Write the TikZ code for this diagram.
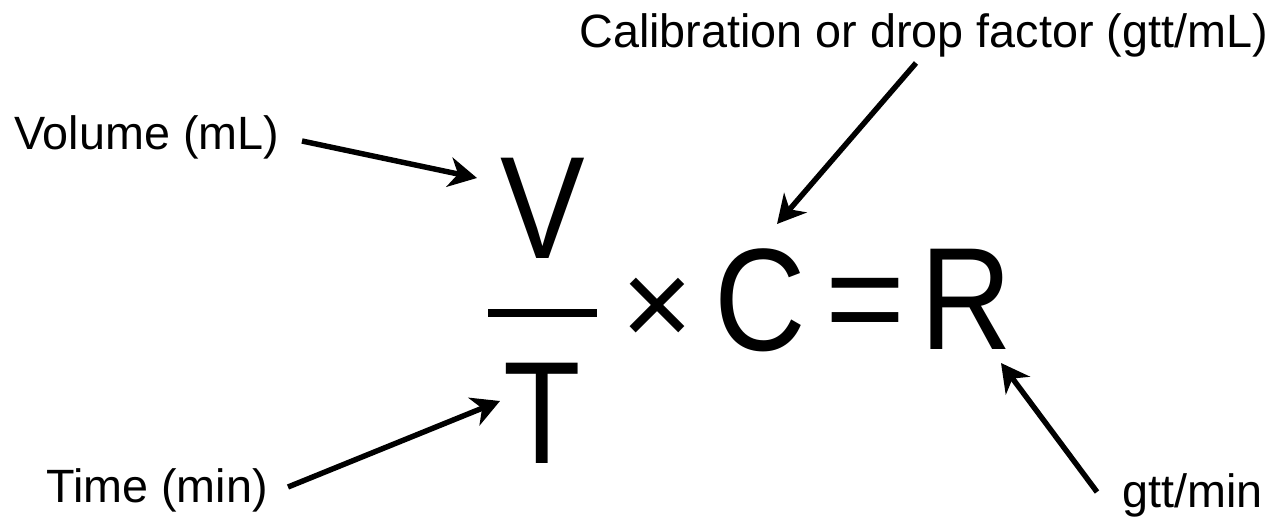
\documentclass[tikz,border=0pt]{standalone}
\usepackage{fontspec}
\setmainfont{Liberation Sans}
\usetikzlibrary{arrows.meta}

\tikzset{
  lbl/.style={inner sep=0pt, anchor=base west, font=\fontsize{26.6}{30}\selectfont},
  letter/.style={inner sep=0pt, anchor=base, xscale=0.87, font=\fontsize{83}{90}\selectfont},
  op/.style={inner sep=0pt, anchor=center},
  pointer/.style={line width=3.1pt, -{Stealth[length=16pt, width=17pt, inset=5pt]}}
}

\begin{document}
\begin{tikzpicture}[x=0.02cm, y=-0.02cm]
\useasboundingbox (0,0) rectangle (1287,517);

% the formula
\node[letter] (vnum) at (543,258) {V};
\node[letter] (tden) at (542,463) {T};
\draw[line width=4pt] (488,313) coordinate (barl) -- (597,313) coordinate (barr);
\node[op, font=\fontsize{70}{80}\selectfont] (times) at (657,312) {×};
\node[letter] (cal) at (760,350) {C};
\node[op, font=\fontsize{78}{88}\selectfont] (eq) at (866,312) {=};
\node[letter] (rate) at (966,349) {R};

% labels
\node[lbl] (vol) at (14,149) {Volume (mL)};
\node[lbl] (tim) at (46,502) {Time (min)};
\node[lbl] (drop) at (579,48) {Calibration or drop factor (gtt/mL)};
\node[lbl] (gpm) at (1122,507) {gtt/min};

% arrow ends
\coordinate (vol-tail) at (302,141);
\coordinate (vol-tip) at (477,178);
\coordinate (tim-tail) at (288,487);
\coordinate (tim-tip) at (500,401);
\coordinate (drop-tail) at (916,63);
\coordinate (drop-tip) at (777,224);
\coordinate (gpm-tail) at (1097,492);
\coordinate (gpm-tip) at (1001,363);

\draw[pointer] (vol-tail) -- (vol-tip);
\draw[pointer] (tim-tail) -- (tim-tip);
\draw[pointer] (drop-tail) -- (drop-tip);
\draw[pointer] (gpm-tail) -- (gpm-tip);

\end{tikzpicture}
\end{document}
